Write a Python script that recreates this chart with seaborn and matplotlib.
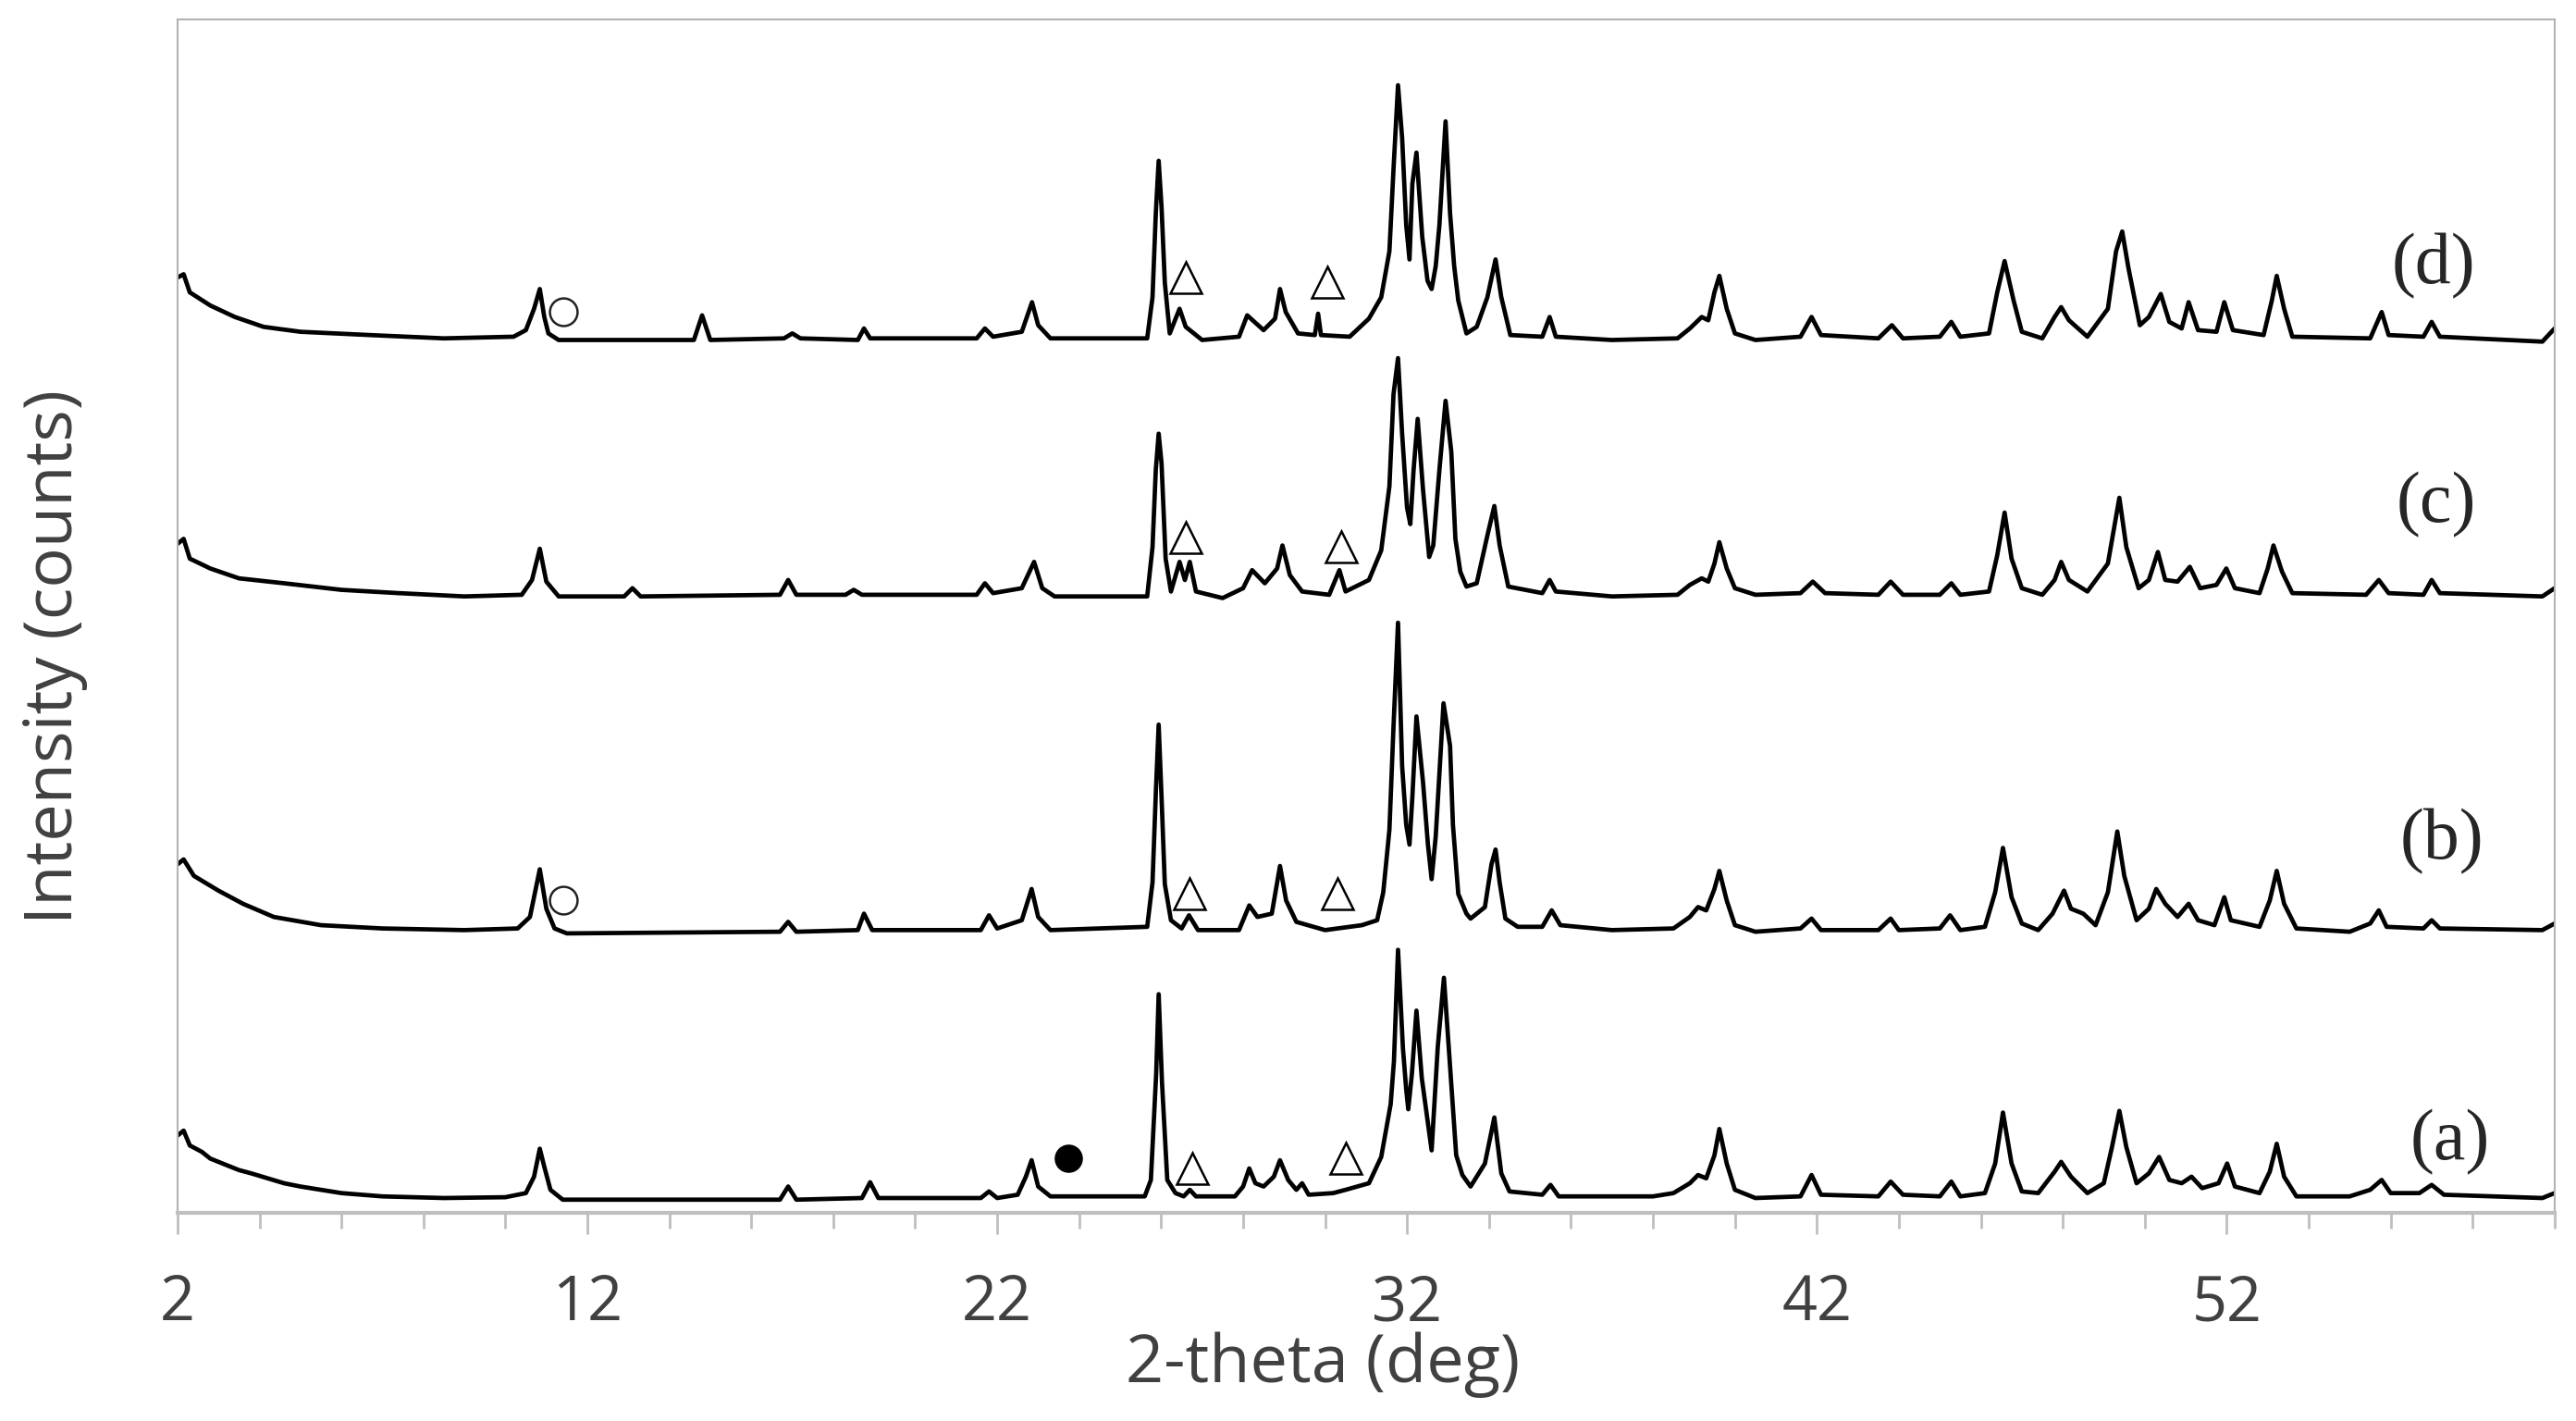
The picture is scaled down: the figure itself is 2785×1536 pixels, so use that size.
import numpy as np
import pandas as pd
import seaborn as sns
from matplotlib import pyplot as plt
from matplotlib.ticker import FixedLocator, MultipleLocator

# XRD patterns, (2-theta in deg, intensity in arbitrary counts)
pattern_a = [
    (2.0, 47), (2.15, 50), (2.3, 41), (2.6, 37), (2.8, 33), (3.1, 30), (3.5, 26), (3.8, 24),
    (4.2, 21), (4.6, 18), (5.0, 16), (5.5, 14), (6.0, 12), (7.0, 10), (8.5, 9), (10.0, 9.5),
    (10.5, 12), (10.7, 22), (10.84, 39), (10.95, 28), (11.1, 14), (11.4, 8), (13.0, 8), (16.7, 8),
    (16.9, 16), (17.1, 8), (18.7, 9), (18.9, 18.6), (19.1, 9), (21.6, 9), (21.8, 13), (22.0, 9),
    (22.5, 11), (22.7, 22), (22.84, 32), (23.0, 16), (23.3, 10), (25.6, 10), (25.75, 20),
    (25.88, 85), (25.94, 133), (26.02, 80), (26.15, 20), (26.35, 12), (26.55, 10), (26.7, 14),
    (26.85, 10), (27.8, 10), (28.0, 16), (28.15, 27), (28.3, 18), (28.5, 16), (28.75, 22),
    (28.9, 32), (29.1, 20), (29.3, 14), (29.44, 18), (29.6, 11), (30.2, 12), (30.5, 14),
    (31.07, 18), (31.37, 34), (31.6, 66), (31.68, 92), (31.78, 160), (31.9, 100), (31.98, 75),
    (32.03, 63), (32.12, 85), (32.23, 123), (32.36, 82), (32.6, 38), (32.75, 101), (32.9, 143),
    (33.06, 85), (33.2, 35), (33.35, 23), (33.55, 16), (33.9, 30), (34.13, 58), (34.3, 24),
    (34.5, 13), (35.3, 11), (35.5, 17), (35.7, 10), (38.0, 10), (38.5, 12), (38.9, 18),
    (39.1, 23), (39.3, 21), (39.5, 35), (39.62, 51), (39.8, 30), (40.0, 14), (40.5, 9),
    (41.6, 10), (41.87, 23), (42.1, 11), (43.5, 10), (43.8, 19), (44.1, 11), (45.0, 10),
    (45.28, 19), (45.5, 10), (46.1, 12), (46.35, 30), (46.54, 61), (46.75, 30), (47.0, 13),
    (47.4, 12), (47.8, 25), (47.96, 31), (48.2, 22), (48.6, 12), (49.0, 18), (49.2, 40),
    (49.38, 62), (49.55, 40), (49.8, 18), (50.1, 24), (50.35, 34), (50.6, 20), (50.9, 18),
    (51.14, 22), (51.4, 15), (51.8, 18), (52.01, 30), (52.2, 16), (52.8, 12), (53.05, 25),
    (53.22, 42), (53.4, 22), (53.7, 10), (55.0, 10), (55.5, 14), (55.78, 20), (56.0, 12),
    (56.7, 12), (57.0, 17), (57.3, 11), (59.7, 9), (60.0, 12),
]

pattern_b = [
    (2.0, 47), (2.15, 50), (2.4, 40), (3.0, 31), (3.6, 23), (4.35, 15), (5.5, 10),
    (7.0, 8), (9.0, 7), (10.3, 8), (10.6, 15), (10.84, 44), (11.0, 20), (11.2, 8),
    (11.5, 5), (16.7, 6), (16.9, 12), (17.1, 6), (18.6, 7), (18.75, 17), (18.95, 7), (21.6, 7),
    (21.8, 16), (22.0, 8), (22.6, 13), (22.84, 32), (23.0, 15), (23.3, 7), (25.66, 9),
    (25.79, 36), (25.87, 90), (25.94, 132), (26.01, 88), (26.09, 35), (26.24, 13), (26.5, 8),
    (26.68, 16), (26.9, 7), (27.9, 7), (28.15, 22), (28.35, 15), (28.7, 17), (28.9, 46),
    (29.05, 25), (29.3, 12), (30.0, 7), (30.9, 10), (31.27, 13), (31.42, 30), (31.57, 68),
    (31.67, 131), (31.78, 194), (31.88, 107), (31.98, 71), (32.06, 59), (32.13, 88),
    (32.23, 137), (32.39, 97), (32.51, 59), (32.6, 38), (32.7, 64), (32.79, 102), (32.89, 145),
    (33.05, 119), (33.12, 71), (33.25, 29), (33.45, 17), (33.55, 14), (33.9, 21), (34.06, 47),
    (34.16, 56), (34.26, 36), (34.4, 14), (34.7, 9), (35.3, 9), (35.53, 19), (35.74, 10),
    (37.0, 7), (38.5, 8), (38.9, 15), (39.1, 21), (39.3, 19), (39.5, 32), (39.62, 43),
    (39.8, 25), (40.0, 10), (40.5, 6), (41.6, 8), (41.87, 14), (42.1, 7), (43.5, 7), (43.8, 14),
    (44.0, 7), (45.0, 8), (45.25, 16), (45.5, 7), (46.1, 9), (46.35, 30), (46.54, 57),
    (46.75, 27), (47.0, 11), (47.4, 7), (47.75, 17), (48.03, 31), (48.2, 20), (48.5, 17),
    (48.8, 10), (49.1, 30), (49.33, 67), (49.5, 40), (49.8, 13), (50.1, 20), (50.28, 32),
    (50.5, 23), (50.8, 15), (51.07, 23), (51.3, 13), (51.7, 10), (51.94, 27), (52.1, 13),
    (52.8, 9), (53.05, 25), (53.22, 43), (53.4, 23), (53.7, 8), (55.0, 6), (55.5, 11),
    (55.71, 19), (55.9, 9), (56.8, 8), (57.0, 13), (57.2, 8), (59.7, 7), (60.0, 11),
]

pattern_c = [
    (2.0, 37), (2.15, 40), (2.3, 28), (2.8, 22), (3.5, 16), (4.6, 13), (6.0, 9), (7.4, 7),
    (9.0, 5), (10.4, 6), (10.65, 15), (10.84, 34), (11.0, 14), (11.3, 5), (12.9, 5), (13.1, 10),
    (13.3, 5), (16.7, 6), (16.9, 15), (17.1, 6), (18.3, 6), (18.5, 9), (18.7, 6), (21.5, 6),
    (21.7, 13), (21.9, 7), (22.6, 10), (22.9, 26), (23.1, 10), (23.4, 5), (25.66, 5),
    (25.79, 35), (25.87, 82), (25.94, 104), (26.01, 86), (26.11, 28), (26.24, 8), (26.45, 26),
    (26.58, 15), (26.7, 26), (26.85, 8), (27.5, 4), (28.0, 10), (28.22, 21), (28.53, 13),
    (28.83, 22), (28.96, 36), (29.14, 18), (29.44, 8), (30.1, 6), (30.35, 21), (30.5, 8),
    (31.07, 15), (31.37, 33), (31.57, 72), (31.67, 128), (31.78, 150), (31.88, 104), (32.0, 59),
    (32.08, 49), (32.16, 82), (32.26, 113), (32.39, 70), (32.54, 29), (32.64, 36), (32.79, 82),
    (32.94, 124), (33.08, 93), (33.18, 40), (33.3, 20), (33.45, 11), (33.7, 13), (33.96, 42),
    (34.13, 60), (34.26, 36), (34.47, 11), (35.3, 7), (35.48, 15), (35.63, 8), (37.0, 5),
    (38.6, 6), (38.9, 12), (39.19, 16), (39.35, 14), (39.5, 25), (39.62, 38), (39.8, 22),
    (40.0, 10), (40.5, 6), (41.6, 7), (41.9, 14), (42.2, 7), (43.5, 6), (43.8, 14), (44.1, 6),
    (45.0, 6), (45.28, 13), (45.5, 6), (46.2, 8), (46.4, 30), (46.58, 56), (46.75, 28),
    (47.0, 10), (47.5, 6), (47.8, 15), (47.96, 26), (48.15, 15), (48.6, 8), (49.1, 25),
    (49.38, 65), (49.55, 35), (49.85, 10), (50.1, 15), (50.32, 32), (50.5, 15), (50.8, 14),
    (51.1, 23), (51.35, 10), (51.75, 12), (51.99, 22), (52.2, 10), (52.8, 7), (53.0, 22),
    (53.14, 36), (53.35, 20), (53.6, 7), (55.4, 6), (55.71, 15), (55.95, 7), (56.8, 6),
    (57.0, 15), (57.2, 7), (59.7, 5), (60.0, 10),
]

pattern_d = [
    (2.0, 44), (2.15, 46), (2.3, 35), (2.8, 27), (3.4, 20), (4.1, 14), (5.0, 11),
    (6.7, 9), (8.5, 7), (10.2, 8), (10.5, 12), (10.7, 25), (10.84, 37), (10.95, 20), (11.05, 10),
    (11.3, 6), (14.6, 6), (14.72, 15), (14.8, 21), (14.88, 15), (15.0, 6), (16.8, 7), (17.0, 10),
    (17.2, 7), (18.6, 6), (18.75, 13), (18.9, 7), (21.5, 7), (21.7, 13), (21.9, 8), (22.6, 11),
    (22.85, 29), (23.0, 15), (23.3, 7), (25.66, 7), (25.79, 32), (25.87, 83), (25.94, 115),
    (26.01, 87), (26.09, 41), (26.21, 10), (26.45, 25), (26.6, 14), (27.0, 6), (27.9, 8),
    (28.1, 21), (28.5, 12), (28.78, 19), (28.9, 37), (29.04, 23), (29.34, 10), (29.75, 9),
    (29.83, 22), (29.9, 9), (30.6, 8), (31.07, 19), (31.37, 32), (31.57, 60), (31.67, 110),
    (31.78, 161), (31.88, 129), (31.98, 76), (32.06, 55), (32.13, 101), (32.23, 120),
    (32.37, 69), (32.5, 42), (32.6, 37), (32.7, 51), (32.79, 76), (32.94, 139), (33.05, 83),
    (33.15, 51), (33.25, 30), (33.45, 10), (33.7, 14), (33.96, 32), (34.16, 55), (34.3, 32),
    (34.52, 9), (35.3, 8), (35.48, 20), (35.63, 8), (37.0, 6), (38.6, 7), (38.9, 13),
    (39.19, 20), (39.35, 18), (39.5, 35), (39.62, 45), (39.8, 25), (40.0, 10), (40.5, 6),
    (41.6, 8), (41.87, 20), (42.1, 9), (43.5, 7), (43.83, 15), (44.1, 7), (45.0, 8),
    (45.28, 17), (45.5, 8), (46.2, 10), (46.4, 35), (46.58, 54), (46.8, 30), (47.0, 11),
    (47.5, 7), (47.8, 20), (47.96, 26), (48.15, 18), (48.6, 8), (49.1, 25), (49.3, 60),
    (49.45, 72), (49.6, 50), (49.88, 15), (50.1, 20), (50.39, 34), (50.6, 17), (50.9, 13),
    (51.07, 29), (51.3, 12), (51.75, 11), (51.94, 29), (52.15, 12), (52.9, 9), (53.1, 30),
    (53.22, 45), (53.4, 25), (53.6, 8), (55.5, 7), (55.78, 23), (55.95, 9), (56.8, 8),
    (57.0, 17), (57.2, 8), (59.7, 5), (60.0, 13),
]

samples = ['(a)', '(b)', '(c)', '(d)']
patterns = [pattern_a, pattern_b, pattern_c, pattern_d]
offsets = [0, 165, 370, 525]   # vertical stacking of the patterns

# phase markers: sample, 2-theta, level in that sample's counts
marker_sample = ['(d)', '(d)', '(d)', '(c)', '(c)', '(b)', '(b)', '(b)', '(a)', '(a)', '(a)']
marker_theta = [11.41, 26.6, 30.05, 26.6, 30.4, 11.41, 26.7, 30.3, 23.74, 26.75, 30.5]
marker_level = [23, 44, 41, 41, 35, 25, 29, 29, 33, 27, 33]
marker_kind = ['open_circle', 'triangle', 'triangle', 'triangle', 'triangle',
               'open_circle', 'triangle', 'triangle', 'dot', 'triangle', 'triangle']

# sample tags: 2-theta, level in that sample's counts
tag_theta = [57.45, 57.25, 57.1, 57.05]
tag_level = [43, 61, 61, 51]

rows = []
for name, pat, off in zip(samples, patterns, offsets):
    for th, val in pat:
        rows.append({'sample': name, 'theta': th, 'intensity': val + off})
df = pd.DataFrame(rows)

sns.set_theme(style='white')
plt.rcParams['font.family'] = ['Open Sans', 'DejaVu Sans']

fig = plt.figure(figsize=(27.85, 15.36), dpi=100)
ax = fig.add_axes([0.0689, 0.1465, 0.9228, 0.8398])

sns.lineplot(data=df, x='theta', y='intensity', hue='sample', units='sample', estimator=None,
             palette=['black'] * 4, linewidth=3.4, legend=False, ax=ax)

off_of = dict(zip(samples, offsets))
styles = {
    'triangle': dict(marker='^', markersize=25, markerfacecolor='none', markeredgecolor='black', markeredgewidth=1.8),
    'open_circle': dict(marker='o', markersize=21.5, markerfacecolor='none', markeredgecolor='#222222', markeredgewidth=1.8),
    'dot': dict(marker='o', markersize=22, markerfacecolor='black', markeredgecolor='black', markeredgewidth=0),
}
for s, th, lv, kind in zip(marker_sample, marker_theta, marker_level, marker_kind):
    ax.plot([th], [lv + off_of[s]], linestyle='none', **styles[kind])

for s, th, lv in zip(samples, tag_theta, tag_level):
    ax.text(th, lv + off_of[s], s, fontsize=56, family='Liberation Serif', color='#262626',
            ha='center', va='center')

ax.set_xlim(2, 60)
ax.set_ylim(0, 726)
ax.xaxis.set_major_locator(FixedLocator([2, 12, 22, 32, 42, 52]))
ax.xaxis.set_minor_locator(MultipleLocator(2))
ax.set_yticks([])
ax.tick_params(axis='x', which='major', direction='out', length=16.5, width=2, color='#bfbfbf',
               labelsize=48, labelcolor='#404040', pad=30, bottom=True)
ax.tick_params(axis='x', which='minor', direction='out', length=12, width=2, color='#bfbfbf', bottom=True)

for side in ['top', 'left', 'right']:
    ax.spines[side].set_color('#b3b3b3')
    ax.spines[side].set_linewidth(1.5)
ax.spines['bottom'].set_color('#bfbfbf')
ax.spines['bottom'].set_linewidth(3)

ax.set_xlabel('2-theta (deg)', fontsize=52, color='#404040')
ax.set_ylabel('Intensity (counts)', fontsize=52, color='#404040')
ax.xaxis.set_label_coords(0.4817, -0.100)
ax.yaxis.set_label_coords(-0.0377, 0.466)

plt.savefig('out.png', dpi=100)
plt.close()
